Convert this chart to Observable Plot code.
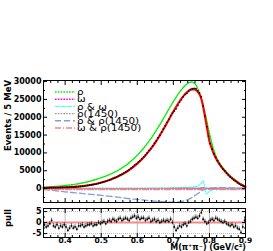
<!DOCTYPE html>
<html><head><meta charset="utf-8">
<script src="https://cdn.jsdelivr.net/npm/d3@7"></script>
<script src="https://cdn.jsdelivr.net/npm/@observablehq/plot@0.6"></script>
<style>
body{margin:0;background:#fff;}
#chart{position:relative;width:273px;height:251px;overflow:hidden;background:#fff;}
#chart svg{display:block;}
</style></head><body><div id="chart"></div>
<script>
// ---- curve sampling points (GeV/c^2) ----
const curveX = [0.34,0.35,0.36,0.37,0.38,0.39,0.40,0.41,0.42,0.43,0.44,0.45,0.46,0.47,0.48,0.49,0.50,0.51,0.52,0.53,0.54,0.55,0.56,0.57,0.58,0.59,0.60,0.61,0.62,0.63,0.64,0.65,0.66,0.67,0.68,0.69,0.70,0.71,0.72,0.73,0.74,0.75,0.76,
  0.765,0.77,0.775,0.78,0.7825,0.785,0.7875,0.79,0.7925,0.795,0.80,0.805,0.81,0.82,0.83,0.84,0.85,0.86,0.87,0.88,0.89,0.90];
// total fit
const fitY = [200,230,260,290,320,350,380,420,470,540,630,740,870,1020,1200,1420,1680,1970,2300,2680,3100,3580,4100,4700,5400,6150,7000,7950,9000,10200,11500,12900,14500,16200,18000,19800,21600,23300,24900,26200,27200,27800,27800,
  27400,26800,25900,24200,23000,21700,20300,18900,17450,16000,13300,11700,10200,8100,6500,5200,4100,3100,2300,1600,1000,450];
// rho
const rhoY = [350,420,480,560,650,750,860,980,1100,1250,1420,1620,1850,2100,2400,2700,3050,3400,3800,4250,4750,5300,5950,6650,7450,8350,9350,10450,11650,12950,14350,15900,17500,19200,20950,22700,24400,26000,27400,28600,29500,29900,29400,
  28600,27500,26000,24300,23300,22300,21300,20200,19000,17800,15500,13400,11500,8700,6900,5500,4400,3400,2600,1800,1150,550];
// omega
const omegaY = [0,0,0,0,0,0,0,0,0,0,0,0,0,0,0,0,0,0,0,0,0,0,0,0,0,0,0,0,0,0,0,0,0,0,0,0,0,0,0,0,0,0,0,
  15,30,80,220,300,220,110,60,35,20,10,5,0,0,0,0,0,0,0,0,0,0];
// rho & omega interference
const rhoOmegaY = [20,20,22,24,26,28,30,32,34,36,38,40,42,45,48,50,52,55,58,60,63,66,70,73,76,80,85,90,95,100,110,120,130,145,160,180,200,225,255,290,340,410,530,
  640,850,1250,1900,2200,1300,-200,-1100,-1450,-1300,-800,-500,-320,-170,-110,-80,-60,-45,-35,-25,-18,-12];
// rho(1450)
const rho1450Y = [30,31,33,36,38,41,43,44,46,49,51,52,55,57,58,61,63,64,67,69,70,73,75,76,79,81,82,85,87,88,90,93,95,96,98,101,103,104,106,108,110,111,112,
  112,113,113,114,114,114,114,115,115,115,116,116,116,117,117,117,117,118,118,118,118,118];
// rho & rho(1450) interference
const rhoRho1450Y = [-200,-320,-450,-580,-700,-800,-900,-1000,-1100,-1200,-1300,-1400,-1500,-1600,-1700,-1800,-1900,-2000,-2100,-2220,-2350,-2470,-2600,-2720,-2850,-2950,-3050,-3150,-3250,-3350,-3450,-3530,-3600,-3680,-3750,-3790,-3800,-3760,-3650,-3420,-3100,-2600,-1950,
  -1600,-1250,-900,-550,-400,-280,-160,-50,20,80,150,190,220,250,260,250,230,200,170,130,90,60];
// omega & rho(1450) interference
const omegaRho1450Y = [-250,-250,-250,-250,-250,-250,-250,-250,-250,-250,-250,-250,-250,-250,-250,-250,-250,-250,-250,-250,-250,-250,-250,-250,-250,-250,-250,-250,-250,-250,-250,-250,-250,-250,-250,-250,-250,-250,-250,-250,-250,-250,-255,
  -260,-280,-320,-300,-200,-100,-80,-120,-170,-200,-230,-240,-245,-250,-250,-250,-250,-250,-250,-250,-250,-250];

// ---- data (5 MeV bins) ----
const binX = [0.3425,0.3475,0.3525,0.3575,0.3625,0.3675,0.3725,0.3775,0.3825,0.3875,
0.3925,0.3975,0.4025,0.4075,0.4125,0.4175,0.4225,0.4275,0.4325,0.4375,
0.4425,0.4475,0.4525,0.4575,0.4625,0.4675,0.4725,0.4775,0.4825,0.4875,
0.4925,0.4975,0.5025,0.5075,0.5125,0.5175,0.5225,0.5275,0.5325,0.5375,
0.5425,0.5475,0.5525,0.5575,0.5625,0.5675,0.5725,0.5775,0.5825,0.5875,
0.5925,0.5975,0.6025,0.6075,0.6125,0.6175,0.6225,0.6275,0.6325,0.6375,
0.6425,0.6475,0.6525,0.6575,0.6625,0.6675,0.6725,0.6775,0.6825,0.6875,
0.6925,0.6975,0.7025,0.7075,0.7125,0.7175,0.7225,0.7275,0.7325,0.7375,
0.7425,0.7475,0.7525,0.7575,0.7625,0.7675,0.7725,0.7775,0.7825,0.7875,
0.7925,0.7975,0.8025,0.8075,0.8125,0.8175,0.8225,0.8275,0.8325,0.8375,
0.8425,0.8475,0.8525,0.8575,0.8625,0.8675,0.8725,0.8775,0.8825,0.8875,
0.8925,0.8975];
const dataY = [193,192,214,244,283,257,263,294,282,314,
320,353,350,339,380,425,432,476,491,570,
619,685,716,794,877,951,1049,1104,1220,1328,
1485,1595,1752,1919,2029,2241,2444,2610,2864,3050,
3248,3548,3832,4033,4348,4685,4980,5297,5736,6155,
6601,6952,7450,7844,8393,8924,9396,10049,10730,11228,
11959,12718,13358,14219,14925,15838,16779,17616,18586,19420,
20463,21150,21728,22346,23315,24265,24907,25714,26369,26704,
27350,27733,28050,28133,28015,27429,26837,25762,23177,20371,
17384,14650,12637,11132,9773,8811,7832,6983,6214,5525,
4960,4342,3788,3263,2846,2400,2056,1670,1336,997,
803,611];
const pullY = [-1,-2,-1.5,-0.5,1,-1.5,-2,-1,-2.5,-1.5,
-2,-1,-2,-3.5,-2.5,-1.5,-2.5,-2,-3,-1.5,
-1.5,-1,-2,-1.5,-1,-1,-0.5,-1.5,-1,-1,
0,-0.5,0,0.5,-0.5,0.5,1,0.5,1.5,1,
0.5,1.5,2,1,1.5,2,1.5,1,2,2.5,
3,2,2.5,1.5,2,2,1,1.5,2,0.5,
1,1.5,0.5,1,0,0.5,1,0.5,1,0.5,
1.5,0,-2,-3.5,-2.5,-1.5,-2,-1,-0.5,-1.5,
0,0.5,1.5,2,2.5,2,3,4.5,1.5,0.5,
-0.5,0,1,1.5,1,2,1.5,1,0.5,0,
0.5,-0.5,-1,-1.5,-1,-2,-1.5,-2.5,-3,-4.5,
-2,1];

// ---- ticks & labels ----
const xMajor = [0.4,0.5,0.6,0.7,0.8,0.9];
const xMinor = [0.34,0.36,0.38,0.42,0.44,0.46,0.48,0.52,0.54,0.56,0.58,0.62,0.64,0.66,0.68,0.72,0.74,0.76,0.78,0.82,0.84,0.86,0.88];
const yMajor = [0,5000,10000,15000,20000,25000,30000];
const yMinor = [-2500,2500,7500,12500,17500,22500,27500];
const pullMajor = [-5,0,5];
const pullMinor = [-2.5,2.5];
const legendLabels = ["ρ","ω","ρ & ω","ρ(1450)","ρ & ρ(1450)","ω & ρ(1450)"];
const yTitle = "Events / 5 MeV";
const pullTitle = "pull";
const xTitle = "M(π⁺π⁻) (GeV/c²)";

// styles per component
const comps = [
  {key:"rho", label:legendLabels[0], stroke:"#00ee00", dash:"1.6,1.2", w:1.4},
  {key:"omega", label:legendLabels[1], stroke:"#ff00ff", dash:"1.6,1.2", w:1.2},
  {key:"rhoOmega", label:legendLabels[2], stroke:"#55ffff", dash:"5,1", w:1.2},
  {key:"rho1450", label:legendLabels[3], stroke:"#999999", dash:"1.6,1.2", w:1.2},
  {key:"rhoRho1450", label:legendLabels[4], stroke:"#7f9fe0", dash:"6,3", w:1.3},
  {key:"omegaRho1450", label:legendLabels[5], stroke:"#ff7f7f", dash:"6,2,1,2", w:1.3}
];

const curves = curveX.map((x,i)=>({x, fit:fitY[i], rho:rhoY[i], omega:omegaY[i], rhoOmega:rhoOmegaY[i],
  rho1450:rho1450Y[i], rhoRho1450:rhoRho1450Y[i], omegaRho1450:omegaRho1450Y[i]}));
const bins = binX.map((x,i)=>({x, n:dataY[i], pull:pullY[i]}));

const xDomain = [0.34, 0.9];
const font = "DejaVu Sans";
const style = {fontFamily:font, fontSize:"8px", fontWeight:"bold", color:"black", background:"white", overflow:"visible"};
const blank = () => "";
const ML = 43, MR = 28;

function frameTicks(yMaj, yMin) {
  return [
    Plot.axisX({anchor:"bottom", ticks:xMajor, tickSize:-4, tickFormat:blank, label:null}),
    Plot.axisX({anchor:"bottom", ticks:xMinor, tickSize:-2, tickFormat:blank, label:null}),
    Plot.axisX({anchor:"top", ticks:xMajor, tickSize:-4, tickFormat:blank, label:null}),
    Plot.axisX({anchor:"top", ticks:xMinor, tickSize:-2, tickFormat:blank, label:null}),
    Plot.axisY({anchor:"left", ticks:yMaj, tickSize:-4, tickFormat:blank, label:null}),
    Plot.axisY({anchor:"left", ticks:yMin, tickSize:-2, tickFormat:blank, label:null}),
    Plot.axisY({anchor:"right", ticks:yMaj, tickSize:-4, tickFormat:blank, label:null}),
    Plot.axisY({anchor:"right", ticks:yMin, tickSize:-2, tickFormat:blank, label:null}),
    Plot.axisY({anchor:"left", ticks:yMaj, tickSize:0, tickPadding:2, tickFormat:d=>String(d), label:null}),
    Plot.frame({stroke:"black", strokeWidth:1})
  ];
}

const main = Plot.plot({
  width:273, height:205, marginTop:80, marginBottom:3, marginLeft:ML, marginRight:MR,
  x:{domain:xDomain}, y:{domain:[-3900,30300]}, style,
  marks:[
    ...comps.map(c => Plot.lineY(curves, {x:"x", y:c.key, stroke:c.stroke, strokeWidth:c.w, strokeDasharray:c.dash, curve:"monotone-x"})),
    Plot.lineY(curves, {x:"x", y:"fit", stroke:"#ff0000", strokeWidth:2.1, curve:"monotone-x"}),
    Plot.dot(bins, {x:"x", y:"n", r:0.85, fill:"black", stroke:null}),
    ...frameTicks(yMajor, yMinor)
  ]
});

const pull = Plot.plot({
  width:273, height:46, marginTop:3, marginBottom:14, marginLeft:ML, marginRight:MR,
  x:{domain:xDomain}, y:{domain:[-6.8,6.4]}, style,
  marks:[
    Plot.gridX({ticks:xMajor, stroke:"#aaaaaa", strokeOpacity:1, strokeWidth:0.8}),
    Plot.gridY({ticks:[-5,5], stroke:"#aaaaaa", strokeOpacity:1, strokeWidth:0.8, strokeDasharray:"1,1"}),
    Plot.ruleY([0], {stroke:"#f48a8a", strokeWidth:2}),
    Plot.ruleX(bins, {x:"x", y1:d=>d.pull-1, y2:d=>d.pull+1, stroke:"black", strokeWidth:0.6}),
    Plot.dot(bins, {x:"x", y:"pull", r:0.9, fill:"black", stroke:null}),
    Plot.axisX({anchor:"bottom", ticks:xMajor, tickSize:0, tickPadding:0, fontSize:7.5, tickFormat:d=>String(d), label:null}),
    ...frameTicks(pullMajor, pullMinor)
  ]
});

const root = document.getElementById("chart");
root.appendChild(main);
root.appendChild(pull);

// y title (rotated, top aligned as in ROOT)
const s1 = d3.select(main);
s1.append("text").attr("transform","translate(11,80) rotate(-90)").attr("text-anchor","end")
  .attr("font-family",font).attr("font-size",8.5).attr("font-weight","bold").attr("fill","black").text(yTitle);

// legend
const lg = s1.append("g").attr("text-anchor","start");
comps.forEach((c,i)=>{
  const y = 92 + i*7.2;
  lg.append("line").attr("x1",55).attr("x2",75).attr("y1",y).attr("y2",y)
    .attr("stroke",c.stroke).attr("stroke-width",c.w+0.2).attr("stroke-dasharray",c.dash);
  lg.append("text").attr("transform",`translate(77,${y}) scale(1.15,1)`).attr("dy","0.35em").attr("font-family",font)
    .attr("text-anchor","start").attr("font-size",9).attr("font-weight","normal").attr("fill","black").text(c.label);
});

// pull panel titles
const s2 = d3.select(pull);
s2.append("text").attr("transform","translate(11,4) rotate(-90)").attr("text-anchor","end")
  .attr("font-family",font).attr("font-size",8.5).attr("font-weight","bold").attr("fill","black").text(pullTitle);
s2.append("text").attr("x",246).attr("y",45).attr("text-anchor","end")
  .attr("font-family",font).attr("font-size",8).attr("font-weight","bold").attr("fill","black").text(xTitle);
</script></body></html>
